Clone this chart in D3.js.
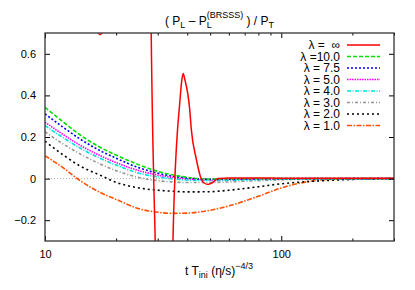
<!DOCTYPE html>
<html>
<head>
<meta charset="utf-8">
<script src="https://cdn.jsdelivr.net/npm/d3@7"></script>
<style>
  body { margin: 0; background: #fff; }
  text { font-family: "Liberation Sans", Arial, sans-serif; fill: #000; }
</style>
</head>
<body>
<div id="chart"></div>
<script>
// time axis shared by the finite-lambda curves
var tValues = [10, 12, 14, 17, 20, 25, 30, 35, 40, 50, 60, 80, 100, 150, 200, 300];

var lam10 = [0.343, 0.27, 0.212, 0.152, 0.113, 0.066, 0.035, 0.017, 0.006, -0.002, -0.002, 0, 0, 0, 0, 0];
var lam75 = [0.311, 0.245, 0.192, 0.136, 0.098, 0.052, 0.026, 0.011, 0.003, -0.003, -0.003, -0.001, 0, 0, 0, 0];
var lam5  = [0.271, 0.21, 0.162, 0.112, 0.077, 0.038, 0.017, 0.005, -0.001, -0.005, -0.004, -0.002, -0.001, 0, 0, 0];
var lam4  = [0.255, 0.195, 0.148, 0.099, 0.065, 0.026, 0.008, -0.002, -0.007, -0.009, -0.008, -0.005, -0.003, -0.001, 0, 0];
var lam3  = [0.225, 0.165, 0.12, 0.072, 0.038, 0.005, -0.01, -0.016, -0.019, -0.019, -0.016, -0.01, -0.006, -0.002, 0, 0];
var lam2  = [0.18, 0.112, 0.062, 0.018, -0.018, -0.045, -0.056, -0.061, -0.064, -0.063, -0.056, -0.039, -0.025, -0.01, -0.004, 0];
var lam1  = [0.11, 0.05, -0.008, -0.065, -0.1, -0.145, -0.162, -0.167, -0.166, -0.152, -0.131, -0.085, -0.045, -0.006, -0.001, 0];

// lambda = infinity has its own sampling (it leaves the frame twice)
var infT = [10, 14, 16, 17.1, 18.3, 21, 27.5, 28.09, 29.41, 31, 33.5, 34.8, 36.4, 37.0, 38.0, 38.45, 39.0, 40.95, 41.6, 43.7, 45.4, 47, 49, 51, 54, 60, 80, 100, 150, 200, 300];
var infV = [3, 1.5, 0.8, 0.692, 0.8, 2, 2, 0.8, -0.4, -1.5, -1.5, -0.3, 0.238, 0.335, 0.48, 0.505, 0.48, 0.335, 0.238, 0.093, 0.013, -0.02, -0.028, -0.02, 0.0, 0.003, 0.003, 0.002, 0.002, 0.002, 0.002];

var labels = ["λ =  ∞", "λ =10.0", "λ = 7.5", "λ = 5.0", "λ = 4.0", "λ = 3.0", "λ = 2.0", "λ = 1.0"];
var colors = ["#ff0000", "#00e000", "#0000ff", "#ff00ff", "#00e0e0", "#959595", "#000000", "#ff5000"];
var dashes = [null, "4,2", "2,2", "1.5,1", "4,1.5,1,1.5", "3,2,1,2", "2,3", "5,1.5,1.5,1.5"];

var xMajor = [10, 100];
var xMinor = [20, 30, 40, 50, 60, 70, 80, 90, 200, 300];
var yTicks = [-0.2, 0, 0.2, 0.4, 0.6];

var W = 415, H = 290;
var pL = 45, pR = 394, pT = 33, pB = 241;

var svg = d3.select("#chart").append("svg")
  .attr("width", W).attr("height", H);

var x = d3.scaleLog().domain([10, 300]).range([pL, pR]);
var y = d3.scaleLinear().domain([-0.3, 0.7]).range([pB, pT]);

svg.append("clipPath").attr("id", "clip")
  .append("rect").attr("x", pL).attr("y", pT)
  .attr("width", pR - pL).attr("height", pB - pT);

// zero line
svg.append("line")
  .attr("x1", pL).attr("x2", pR)
  .attr("y1", y(0)).attr("y2", y(0))
  .attr("stroke", "#999").attr("stroke-width", 0.8)
  .attr("stroke-dasharray", "1,2");

var line = d3.line()
  .x(function(d) { return x(d[0]); })
  .y(function(d) { return y(d[1]); })
  .curve(d3.curveMonotoneX);

var series = [
  d3.zip(infT, infV),
  d3.zip(tValues, lam10),
  d3.zip(tValues, lam75),
  d3.zip(tValues, lam5),
  d3.zip(tValues, lam4),
  d3.zip(tValues, lam3),
  d3.zip(tValues, lam2),
  d3.zip(tValues, lam1)
];

var plot = svg.append("g").attr("clip-path", "url(#clip)");
// draw lambda=1 first so the red curve ends up on top
for (var i = series.length - 1; i >= 0; i--) {
  plot.append("path")
    .datum(series[i])
    .attr("d", line)
    .attr("fill", "none")
    .attr("stroke", colors[i])
    .attr("stroke-width", i == 0 ? 1.5 : 1.6)
    .attr("stroke-dasharray", dashes[i]);
}

// axes, ticks pointing inside
function styleAxis(g) {
  g.select(".domain").remove();
  g.selectAll("line").attr("stroke", "#000");
  g.selectAll("text").style("font-size", "11px").style("font-family", "Liberation Sans, Arial, sans-serif");
}

svg.append("g").attr("transform", "translate(0," + pB + ")")
  .call(d3.axisBottom(x).tickValues(xMajor).tickSize(-5).tickPadding(9).tickFormat(d3.format("d")))
  .call(styleAxis);
svg.append("g").attr("transform", "translate(0," + pB + ")")
  .call(d3.axisBottom(x).tickValues(xMinor).tickSize(-2.5).tickFormat(""))
  .call(styleAxis);
svg.append("g").attr("transform", "translate(0," + pT + ")")
  .call(d3.axisTop(x).tickValues(xMajor).tickSize(-5).tickFormat(""))
  .call(styleAxis);
svg.append("g").attr("transform", "translate(0," + pT + ")")
  .call(d3.axisTop(x).tickValues(xMinor).tickSize(-2.5).tickFormat(""))
  .call(styleAxis);

svg.append("g").attr("transform", "translate(" + pL + ",0)")
  .call(d3.axisLeft(y).tickValues(yTicks).tickSize(-5).tickPadding(9)
    .tickFormat(function(d) { return d == 0 ? "0" : d3.format(".1f")(d).replace("-", "\u2212"); }))
  .call(styleAxis);
svg.append("g").attr("transform", "translate(" + pR + ",0)")
  .call(d3.axisRight(y).tickValues(yTicks).tickSize(-5).tickFormat(""))
  .call(styleAxis);

// frame
svg.append("rect")
  .attr("x", pL).attr("y", pT)
  .attr("width", pR - pL).attr("height", pB - pT)
  .attr("fill", "none").attr("stroke", "#333").attr("stroke-width", 1.3);

// legend
var legend = svg.append("g");
labels.forEach(function(lab, i) {
  var ly = 45 + i * 11.5;
  legend.append("text")
    .attr("x", 340).attr("y", ly + 4)
    .attr("text-anchor", "end")
    .style("white-space", "pre")
    .style("font-size", "12px")
    .text(lab);
  legend.append("line")
    .attr("x1", 347).attr("x2", 380)
    .attr("y1", ly).attr("y2", ly)
    .attr("stroke", colors[i])
    .attr("stroke-width", 1.6)
    .attr("stroke-dasharray", dashes[i]);
});

// title
var title = svg.append("text")
  .attr("x", (pL + pR) / 2).attr("y", 25)
  .attr("text-anchor", "middle")
  .style("font-size", "12px")
  .style("white-space", "pre");
title.append("tspan").text("( P");
title.append("tspan").attr("dy", 3).style("font-size", "9px").text("L");
title.append("tspan").attr("dy", -3).text(" \u2013 P");
title.append("tspan").attr("dy", 3).style("font-size", "9px").text("L");
title.append("tspan").attr("dy", -10).attr("dx", -5).style("font-size", "9px").text("(BRSSS)");
title.append("tspan").attr("dy", 7).text(" ) / P");
title.append("tspan").attr("dy", 3).style("font-size", "9px").text("T");

// x label
var xl = svg.append("text")
  .attr("x", 219).attr("y", 275)
  .attr("text-anchor", "middle")
  .style("font-size", "12px")
  .style("white-space", "pre");
xl.append("tspan").text("t T");
xl.append("tspan").attr("dy", 3).style("font-size", "9px").text("ini");
xl.append("tspan").attr("dy", -3).text(" (\u03b7/s)");
xl.append("tspan").attr("dy", -6).style("font-size", "9px").text("\u22124/3");
</script>
</body>
</html>
